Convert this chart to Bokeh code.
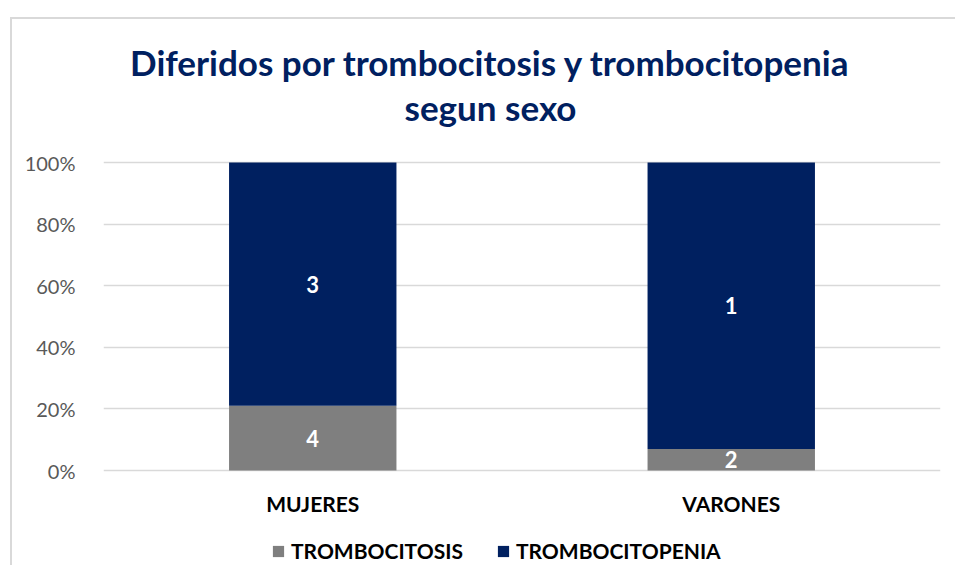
from bokeh.plotting import figure
from bokeh.models import Legend, LegendItem, Label, FactorRange, Range1d, ColumnDataSource, FixedTicker
from bokeh.core.properties import value
from bokeh.embed import file_html
from bokeh.resources import INLINE

categories = ["MUJERES", "VARONES"]
series = ["TROMBOCITOSIS", "TROMBOCITOPENIA"]
trombocitosis = [0.21, 0.07]
trombocitopenia = [0.79, 0.93]
label_trombocitosis = ["4", "2"]
label_trombocitopenia = ["3", "1"]
colors = ["#7f7f7f", "#002060"]
title_lines = ["Diferidos por trombocitosis y trombocitopenia", "segun sexo"]
y_ticks = [0, 0.2, 0.4, 0.6, 0.8, 1.0]
y_tick_labels = ["0%", "20%", "40%", "60%", "80%", "100%"]

FONT = "Lato"

# layout (page pixels): frame spans y 22..565; 0% at y=470, 100% at y=162
PX_PER_UNIT = 308.0
FRAME_TOP, FRAME_BOTTOM = 22, 565
Y_MAX = 1 + (162 - FRAME_TOP) / PX_PER_UNIT
Y_MIN = -(FRAME_BOTTOM - 470) / PX_PER_UNIT

source = ColumnDataSource(dict(
    cat=categories,
    TROMBOCITOSIS=trombocitosis,
    TROMBOCITOPENIA=trombocitopenia,
))

p = figure(
    x_range=FactorRange(*categories),
    y_range=Range1d(Y_MIN, Y_MAX),
    frame_width=837, frame_height=FRAME_BOTTOM - FRAME_TOP,
    output_backend="svg", toolbar_location=None,
    min_border_left=91, min_border_right=22,
    min_border_top=3, min_border_bottom=0,
    margin=(17, 0, 0, 10),
)
p.styles = {"border-top": "2px solid #d9d9d9", "border-left": "2px solid #d9d9d9",
            "border-right": "none", "border-bottom": "none",
            "box-sizing": "content-box", "box-shadow": "none", "outline": "none"}
p.outline_line_color = None
p.background_fill_color = "white"
p.border_fill_color = "white"

renderers = p.vbar_stack(series, x="cat", width=0.4, source=source,
                         color=colors, line_color=None)

# data labels at segment centres
mid1 = [t / 2 for t in trombocitosis]
mid2 = [t + q / 2 for t, q in zip(trombocitosis, trombocitopenia)]
lab_src = ColumnDataSource(dict(
    x=categories + categories,
    y=mid1 + mid2,
    t=label_trombocitosis + label_trombocitopenia,
))
p.text(x="x", y="y", text="t", source=lab_src, text_color="white",
       text_font=value(FONT), text_font_style="bold", text_font_size="22px",
       text_align="center", text_baseline="middle")

# axes
p.yaxis.ticker = FixedTicker(ticks=y_ticks)
p.yaxis.major_label_overrides = {t: l for t, l in zip(y_ticks, y_tick_labels)}
p.yaxis.axis_line_color = None
p.yaxis.major_tick_line_color = None
p.yaxis.minor_tick_line_color = None
p.yaxis.major_label_standoff = 22
p.yaxis.major_label_text_font = FONT
p.yaxis.major_label_text_font_size = "20px"
p.yaxis.major_label_text_color = "#595959"

p.xaxis.fixed_location = 0
p.xaxis.axis_line_color = None
p.xaxis.major_tick_line_color = None
p.xaxis.major_label_standoff = 14
p.xaxis.major_label_text_font = FONT
p.xaxis.major_label_text_font_style = "bold"
p.xaxis.major_label_text_font_size = "21px"
p.xaxis.major_label_text_color = "#000000"

p.xgrid.grid_line_color = None
p.ygrid.grid_line_color = "#d9d9d9"
p.ygrid.grid_line_width = 1.5

# title inside the frame
TITLE_X = (490 - 103) / 418.5
for txt, py in zip(title_lines, [61, 106]):
    p.add_layout(Label(x=TITLE_X, y=(470 - py) / PX_PER_UNIT, text=txt,
                       text_align="center", text_baseline="middle",
                       text_font=FONT, text_font_style="bold",
                       text_font_size="35px", text_color="#002060"))

legend = Legend(
    items=[LegendItem(label=s, renderers=[r]) for s, r in zip(series, renderers)],
    orientation="horizontal", location=(271 - 103, FRAME_BOTTOM - 563),
    border_line_color=None, background_fill_alpha=0,
    label_text_font=FONT, label_text_font_style="bold",
    label_text_font_size="21px", label_text_color="#000000",
    glyph_width=14, glyph_height=14, spacing=33, label_standoff=6,
    padding=0, margin=0, label_height=20,
)
p.add_layout(legend, "center")

open("out.html", "w").write(file_html(p, INLINE))
